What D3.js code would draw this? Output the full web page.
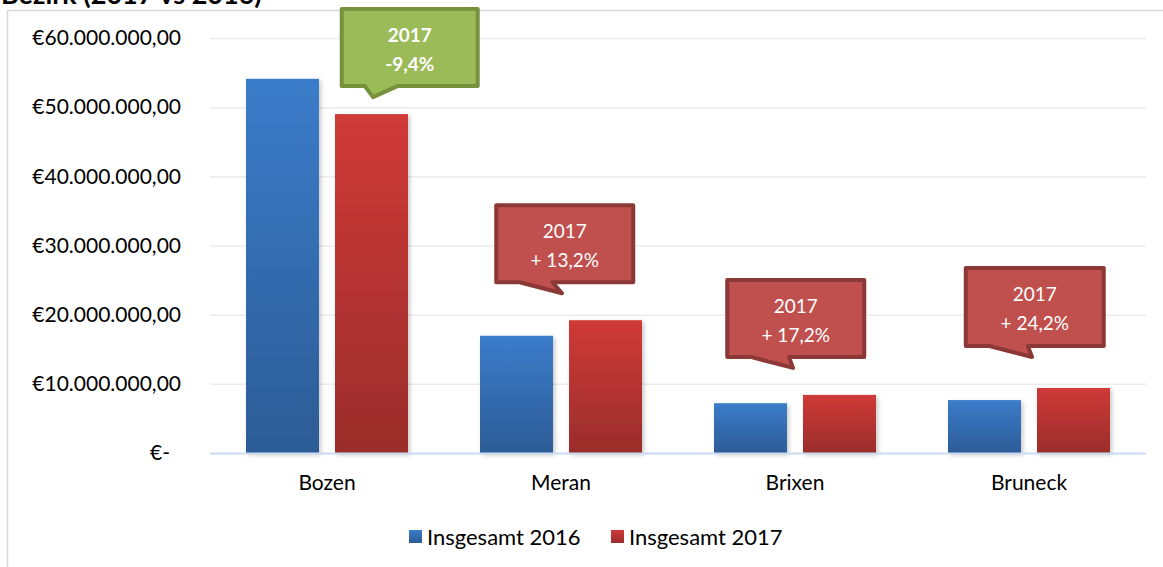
<!DOCTYPE html>
<html>
<head>
<meta charset="utf-8">
<script src="https://cdn.jsdelivr.net/npm/d3@7"></script>
<style>
  body { margin: 0; background: #fff; }
  svg { display: block; font-family: Lato, "Open Sans", sans-serif; }
</style>
</head>
<body>
<div id="chart"></div>
<script>
// Daten
const bezirke = ["Bozen", "Meran", "Brixen", "Bruneck"];
const insgesamt2016 = [54100000, 16950000, 7200000, 7650000];
const insgesamt2017 = [49000000, 19200000, 8400000, 9400000];
const serien = ["Insgesamt 2016", "Insgesamt 2017"];
const yTicks = [0, 10000000, 20000000, 30000000, 40000000, 50000000, 60000000];
const veraenderung = ["-9,4%", "+ 13,2%", "+ 17,2%", "+ 24,2%"];

// Layout
const width = 1163, height = 567;
const plot = { left: 210, right: 1146, top: 38, bottom: 453 };

const svg = d3.select("#chart").append("svg")
  .attr("width", width)
  .attr("height", height);

const defs = svg.append("defs");

function gradient(id, top, bottom) {
  const g = defs.append("linearGradient")
    .attr("id", id)
    .attr("x1", 0).attr("y1", 0).attr("x2", 0).attr("y2", 1);
  g.append("stop").attr("offset", "0%").attr("stop-color", top);
  g.append("stop").attr("offset", "100%").attr("stop-color", bottom);
}
gradient("blau", "#3b7cca", "#2c5c96");
gradient("rot", "#cf3a37", "#9a2d2b");

defs.append("filter")
  .attr("id", "schatten")
  .attr("x", "-20%").attr("y", "-20%").attr("width", "140%").attr("height", "140%")
  .append("feDropShadow")
  .attr("dx", 2).attr("dy", 2).attr("stdDeviation", 2)
  .attr("flood-color", "#000").attr("flood-opacity", 0.22);

// Titel (oben abgeschnitten)
svg.append("text")
  .attr("x", 1)
  .attr("y", 4)
  .attr("font-weight", "bold")
  .attr("font-size", 27)
  .attr("fill", "#000")
  .text("Bezirk (2017 vs 2016)");

// Rahmen
svg.append("rect")
  .attr("x", 7.5).attr("y", 10.5)
  .attr("width", 1300).attr("height", 700)
  .attr("fill", "none")
  .attr("stroke", "#d9d9d9")
  .attr("stroke-width", 1.5);

// Skalen
const x = d3.scaleBand()
  .domain(bezirke)
  .range([plot.left, plot.right])
  .paddingInner(0)
  .paddingOuter(0);

const x1 = d3.scaleBand()
  .domain(serien)
  .range([x.bandwidth() / 2 - 81, x.bandwidth() / 2 + 81])
  .paddingInner(0.18)
  .paddingOuter(0);

const y = d3.scaleLinear()
  .domain([0, 60000000])
  .range([plot.bottom, plot.top]);

// Gitterlinien
svg.append("g")
  .selectAll("line")
  .data(yTicks.filter(d => d > 0))
  .enter().append("line")
  .attr("x1", plot.left)
  .attr("x2", plot.right)
  .attr("y1", d => y(d) + 0.5)
  .attr("y2", d => y(d) + 0.5)
  .attr("stroke", "#ececec")
  .attr("stroke-width", 1.5);

// Y-Achse
const formatEuro = d => d === 0 ? "€-" :
  "€" + d3.format(",.2f")(d).replace(/,/g, "X").replace(".", ",").replace(/X/g, ".");

const yAxis = svg.append("g")
  .attr("transform", `translate(${181},0)`)
  .call(d3.axisLeft(y).tickValues(yTicks).tickSize(0).tickPadding(0).tickFormat(formatEuro));
yAxis.select(".domain").remove();
yAxis.selectAll("text")
  .attr("font-family", "Lato, sans-serif")
  .attr("font-size", 21)
  .attr("fill", "#000")
  .attr("dx", d => d === 0 ? -11 : 0);

// Balken
const daten = bezirke.map((b, i) => ({ bezirk: b, werte: [insgesamt2016[i], insgesamt2017[i]] }));

const gruppen = svg.append("g")
  .selectAll("g")
  .data(daten)
  .enter().append("g")
  .attr("transform", d => `translate(${x(d.bezirk)},0)`);

gruppen.selectAll("rect")
  .data(d => d.werte.map((v, i) => ({ serie: serien[i], wert: v })))
  .enter().append("rect")
  .attr("x", d => x1(d.serie))
  .attr("width", x1.bandwidth())
  .attr("y", d => y(d.wert))
  .attr("height", d => y(0) - y(d.wert))
  .attr("fill", d => d.serie === serien[0] ? "url(#blau)" : "url(#rot)")
  .attr("filter", "url(#schatten)");

// Grundlinie
svg.append("line")
  .attr("x1", plot.left)
  .attr("x2", plot.right)
  .attr("y1", y(0) + 0.5)
  .attr("y2", y(0) + 0.5)
  .attr("stroke", "#c9dbf1")
  .attr("stroke-width", 2);

// X-Achse
const xAxis = svg.append("g")
  .attr("transform", `translate(0,${y(0)})`)
  .call(d3.axisBottom(x).tickSize(0).tickPadding(22));
xAxis.select(".domain").remove();
xAxis.selectAll("text")
  .attr("font-family", "Lato, sans-serif")
  .attr("font-size", 21)
  .attr("fill", "#000");

// Sprechblasen
const blasenLayout = [
  { dx: 46, dy: 17, bw: 136, bh: 77, tipX: 0.23, b1: 0.17, b2: 0.41, farbe: "#9bbb59", rand: "#76923c", fett: true },
  { dx: 1, dy: 27, bw: 137, bh: 77, tipX: 0.48, b1: 0.17, b2: 0.41, farbe: "#c0504d", rand: "#8c3836", fett: false },
  { dx: -2, dy: 27, bw: 137, bh: 77, tipX: 0.48, b1: 0.17, b2: 0.45, farbe: "#c0504d", rand: "#8c3836", fett: false },
  { dx: 3, dy: 31, bw: 138, bh: 78, tipX: 0.48, b1: 0.17, b2: 0.45, farbe: "#c0504d", rand: "#8c3836", fett: false }
];

daten.forEach((d, i) => {
  const L = blasenLayout[i];
  const tx = x(d.bezirk) + x.bandwidth() / 2 + L.dx;
  const ty = y(d.werte[1]) - L.dy;
  const left = tx - L.tipX * L.bw;
  const bottom = ty - 11;
  const top = bottom - L.bh;
  const right = left + L.bw;
  const pfad = d3.path();
  pfad.moveTo(left, top);
  pfad.lineTo(right, top);
  pfad.lineTo(right, bottom);
  pfad.lineTo(left + L.b2 * L.bw, bottom);
  pfad.lineTo(tx, ty);
  pfad.lineTo(left + L.b1 * L.bw, bottom);
  pfad.lineTo(left, bottom);
  pfad.closePath();

  const g = svg.append("g");
  g.append("path")
    .attr("d", pfad.toString())
    .attr("fill", L.farbe)
    .attr("stroke", L.rand)
    .attr("stroke-width", 4)
    .attr("stroke-linejoin", "round");

  const cx = left + L.bw / 2;
  g.append("text")
    .attr("x", cx)
    .attr("y", top + 33)
    .attr("text-anchor", "middle")
    .attr("font-size", 19)
    .attr("font-weight", L.fett ? "bold" : "normal")
    .attr("fill", "#fff")
    .text("2017");
  g.append("text")
    .attr("x", cx)
    .attr("y", top + 62)
    .attr("text-anchor", "middle")
    .attr("font-size", 19)
    .attr("font-weight", L.fett ? "bold" : "normal")
    .attr("fill", "#fff")
    .text(veraenderung[i]);
});

// Legende
const legende = svg.append("g").attr("transform", "translate(409,537)");
const legX = [0, 202];
serien.forEach((s, i) => {
  const e = legende.append("g").attr("transform", `translate(${legX[i]},0)`);
  e.append("rect")
    .attr("x", 0).attr("y", -7)
    .attr("width", 13).attr("height", 13)
    .attr("fill", i === 0 ? "url(#blau)" : "url(#rot)");
  e.append("text")
    .attr("x", 18)
    .attr("y", 8)
    .attr("font-size", 22)
    .attr("fill", "#000")
    .text(s);
});
</script>
</body>
</html>
